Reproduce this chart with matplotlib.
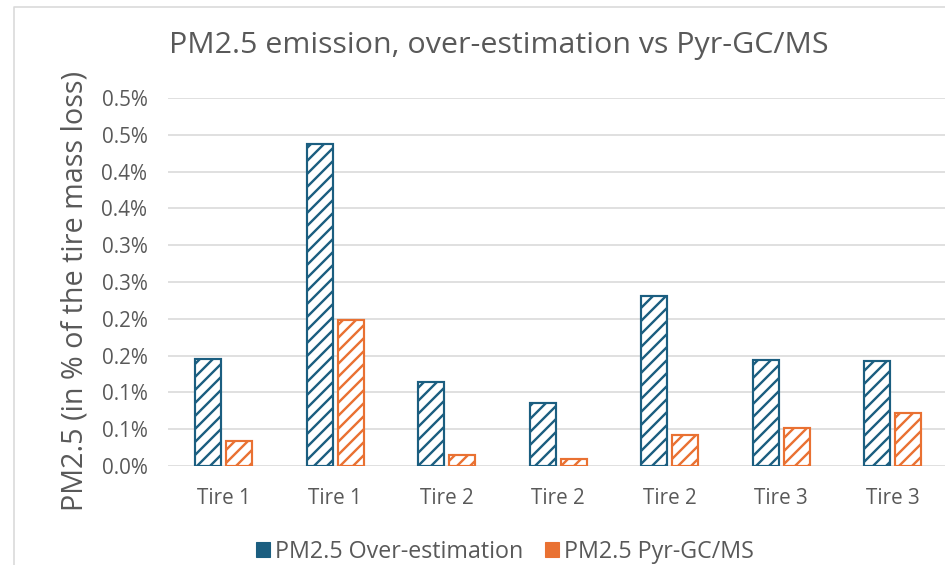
import matplotlib
matplotlib.use("Agg")
import matplotlib.pyplot as plt
import numpy as np
from matplotlib.lines import Line2D
from matplotlib.patches import Patch

# data (values in %)
categories = ["Tire 1", "Tire 1", "Tire 2", "Tire 2", "Tire 2", "Tire 3", "Tire 3"]
over_estimation = [0.145, 0.4375, 0.114, 0.086, 0.231, 0.144, 0.142]
pyr_gcms = [0.034, 0.199, 0.015, 0.009, 0.042, 0.052, 0.072]
y_ticks = [0.0, 0.05, 0.10, 0.15, 0.20, 0.25, 0.30, 0.35, 0.40, 0.45, 0.50]
y_tick_labels = ["0.0%", "0.1%", "0.1%", "0.2%", "0.2%", "0.3%",
                 "0.3%", "0.4%", "0.4%", "0.5%", "0.5%"]
series_names = ["PM2.5 Over-estimation", "PM2.5 Pyr-GC/MS"]

BLUE = "#1B5E80"
ORANGE = "#E97132"
GREY = "#595959"

# dpi 78 so that matplotlib's hatch spacing matches the reference
DPI = 78
W, H = 945, 565
plt.rcParams['hatch.linewidth'] = 2.2
plt.rcParams['font.family'] = ['Open Sans', 'DejaVu Sans']

fig = plt.figure(figsize=(W / DPI, H / DPI), dpi=DPI)

# outer chart frame (only top and left edges are visible)
fig.add_artist(Line2D([14 / W, 14 / W, 1.0], [0.0, 1 - 7 / H, 1 - 7 / H],
                      color="#D9D9D9", lw=1.5, transform=fig.transFigure))

ax = fig.add_axes([168 / W, (H - 466) / H, 1 - 168 / W, (466 - 98) / H])
x = np.arange(len(categories))
w = 0.235
ax.bar(x - 0.138, over_estimation, w, facecolor="white", edgecolor=BLUE,
       hatch="//", linewidth=2.0, zorder=3)
ax.bar(x + 0.138, pyr_gcms, w, facecolor="white", edgecolor=ORANGE,
       hatch="//", linewidth=2.0, zorder=3)

ax.set_xlim(-0.5, (W - 168) / 111.5 - 0.5)
ax.set_ylim(0, 0.5)
ax.set_yticks(y_ticks)
ax.set_yticklabels(y_tick_labels)
ax.set_xticks(x)
ax.set_xticklabels(categories)
ax.grid(axis="y", color="#D9D9D9", lw=1.5, zorder=0)
for s in ax.spines.values():
    s.set_visible(False)
ax.tick_params(axis="both", length=0, colors=GREY, labelsize=19)
ax.tick_params(axis="y", pad=19)
ax.tick_params(axis="x", pad=20)

fig.text(75 / W, 1 - 291 / H, "PM2.5 (in % of the tire mass loss)",
         rotation=90, ha="center", va="center", fontsize=26.5, color=GREY)

fig.text(499 / W, 1 - 45 / H, "PM2.5 emission, over-estimation vs Pyr-GC/MS",
         ha="center", va="center", fontsize=28, color=GREY)

# at legend size the hatch of the reference collapses to a filled square
handles = [Patch(facecolor=BLUE, edgecolor=BLUE), Patch(facecolor=ORANGE, edgecolor=ORANGE)]
fig.legend(handles, series_names, loc="center", bbox_to_anchor=(505 / W, 1 - 552 / H),
           ncol=2, frameon=False, fontsize=21.5, labelcolor=GREY, handlelength=0.6,
           handleheight=0.6, handletextpad=0.25, columnspacing=0.9)

fig.savefig("out.png", dpi=DPI, facecolor="white")
